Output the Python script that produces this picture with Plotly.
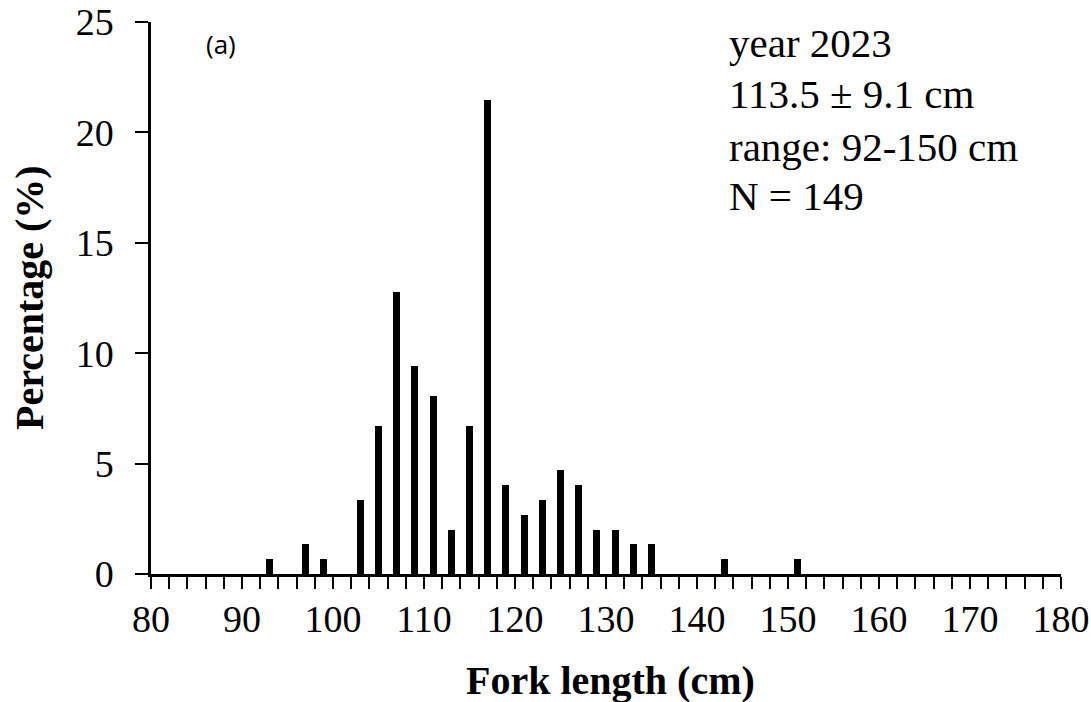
import plotly.graph_objects as go

# Fork length bins (cm, lower bound of 2-cm bin) and percentage of fish
bins = [92, 96, 98, 102, 104, 106, 108, 110, 112, 114, 116, 118, 120, 122,
        124, 126, 128, 130, 132, 134, 142, 150]
pct = [0.67, 1.34, 0.67, 3.36, 6.71, 12.75, 9.40, 8.05, 2.01, 6.71, 21.48,
       4.03, 2.68, 3.36, 4.70, 4.03, 2.01, 2.01, 1.34, 1.34, 0.67, 0.67]
bin_width = 2
xticks = list(range(80, 181, 10))
yticks = [0, 5, 10, 15, 20, 25]
info_lines = ["year 2023", "113.5 \u00b1 9.1 cm", "range: 92-150 cm", "N = 149"]
panel_label = "(a)"

W, H = 1091, 702
L, R, T, B = 151, 30, 22, 128
pw, ph = W - L - R, H - T - B

def px_x(p):
    return (p - L) / pw

def px_y(p):
    return (H - B - p) / ph

serif = "Liberation Serif, Times New Roman, serif"

fig = go.Figure()
fig.add_trace(go.Bar(
    x=[b + bin_width / 2 for b in bins], y=pct, width=0.75,
    marker=dict(color="black", line=dict(width=0)),
    showlegend=False, hoverinfo="x+y",
))

fig.update_layout(
    width=W, height=H,
    margin=dict(l=L, r=R, t=T, b=B),
    paper_bgcolor="white", plot_bgcolor="white",
    font=dict(family=serif, size=38, color="black"),
    bargap=0,
)
fig.update_xaxes(
    range=[80, 180], tickmode="array", tickvals=xticks,
    ticktext=[str(v) for v in xticks],
    ticks="outside", ticklen=12, tickwidth=2, tickcolor="black",
    minor=dict(dtick=2, tick0=80, ticks="outside", ticklen=12, tickwidth=2,
               tickcolor="black", showgrid=False),
    showline=True, linecolor="black", linewidth=2.5,
    showgrid=False, zeroline=False,
    tickfont=dict(family=serif, size=38, color="black"),
    ticklabelstandoff=-2, ticklabeloverflow="allow", automargin=False,
)
fig.update_yaxes(
    range=[0, 25], tickmode="array", tickvals=yticks,
    ticktext=[str(v) for v in yticks],
    ticks="outside", ticklen=13, tickwidth=2, tickcolor="black",
    showline=True, linecolor="black", linewidth=2.5,
    showgrid=False, zeroline=False,
    tickfont=dict(family=serif, size=38, color="black"),
    ticklabelstandoff=14, ticklabeloverflow="allow", automargin=False,
)

# axis titles
fig.add_annotation(
    text="<b>Percentage (%)</b>", xref="paper", yref="paper",
    x=px_x(29), y=px_y(298), xanchor="center", yanchor="middle",
    textangle=-90, showarrow=False,
    font=dict(family=serif, size=40, color="black"),
)
fig.add_annotation(
    text="<b>Fork length (cm)</b>", xref="paper", yref="paper",
    x=px_x(610), y=px_y(680), xanchor="center", yanchor="middle",
    showarrow=False, font=dict(family=serif, size=40, color="black"),
)

# panel label
fig.add_annotation(
    text=panel_label, xref="paper", yref="paper",
    x=px_x(204), y=px_y(44), xanchor="left", yanchor="middle",
    showarrow=False, font=dict(family="Open Sans, sans-serif", size=26, color="black"),
)

# info text
line_y = [43, 94, 147, 196]
for txt, yy in zip(info_lines, line_y):
    fig.add_annotation(
        text=txt, xref="paper", yref="paper",
        x=px_x(727), y=px_y(yy), xanchor="left", yanchor="middle",
        showarrow=False, font=dict(family=serif, size=41, color="black"),
    )

fig.write_html("out.html")
